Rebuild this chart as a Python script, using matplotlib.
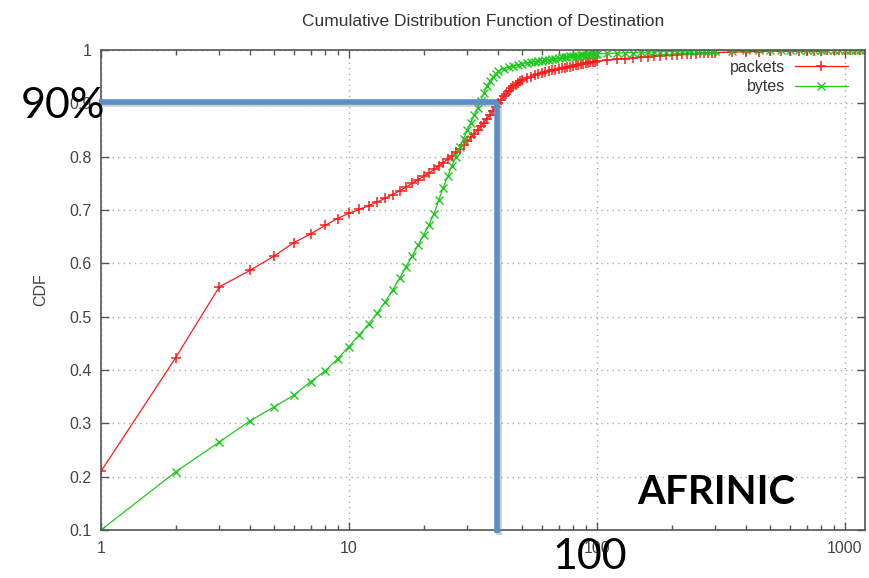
import matplotlib
matplotlib.use("Agg")
import matplotlib.pyplot as plt
import matplotlib.patheffects as pe
from matplotlib.ticker import NullFormatter, LogLocator

# ---- data ----
pk_x = ([1, 2, 3, 4, 5, 6, 7, 8, 9, 10, 11, 12, 13, 14, 15, 16, 17, 18, 19, 20,
         21, 22, 23, 24, 25, 26, 27, 28, 29, 30, 31, 32, 33, 34, 35, 36, 37, 38, 39, 40,
         41, 42, 43, 44, 45, 46, 47, 48, 49]
        + list(range(50, 101, 2)) + list(range(110, 301, 10)) + list(range(350, 1201, 50)))
pk_y = [0.210, 0.423, 0.556, 0.587, 0.614, 0.639, 0.655, 0.671, 0.684, 0.694,
        0.701, 0.708, 0.715, 0.722, 0.729, 0.736, 0.743, 0.750, 0.757, 0.763,
        0.769, 0.776, 0.782, 0.789, 0.795, 0.801, 0.808, 0.815, 0.822, 0.829,
        0.836, 0.843, 0.850, 0.857, 0.864, 0.871, 0.878, 0.886, 0.893, 0.900,
        0.906, 0.913, 0.918, 0.923, 0.928, 0.932, 0.935, 0.938, 0.941,
        # 50..100 step 2
        0.943, 0.947, 0.950, 0.953, 0.955, 0.957, 0.959, 0.960, 0.962, 0.963,
        0.965, 0.966, 0.967, 0.968, 0.969, 0.970, 0.971, 0.972, 0.973, 0.974,
        0.975, 0.976, 0.977, 0.977, 0.978, 0.979,
        # 110..300 step 10
        0.981, 0.983, 0.984, 0.985, 0.986, 0.987, 0.988, 0.989, 0.990, 0.990,
        0.991, 0.992, 0.992, 0.993, 0.993, 0.994, 0.994, 0.995, 0.995, 0.995,
        # 350..1200 step 50
        0.996, 0.997, 0.997, 0.998, 0.998, 0.998, 0.999, 0.999, 0.999, 0.999,
        0.9995, 0.9995, 0.9995, 0.9997, 0.9997, 0.9998, 0.9999, 1.0]

by_x = ([1, 2, 3, 4, 5, 6, 7, 8, 9, 10, 11, 12, 13, 14, 15, 16, 17, 18, 19, 20,
         21, 22, 23, 24, 25, 26, 27, 28, 29, 30, 31, 32, 33, 34, 35, 36, 37, 38, 39]
        + list(range(40, 101, 2)) + list(range(110, 301, 10)) + list(range(350, 1201, 50)))
by_y = [0.100, 0.209, 0.265, 0.305, 0.331, 0.353, 0.378, 0.398, 0.421, 0.444,
        0.466, 0.486, 0.507, 0.528, 0.550, 0.572, 0.594, 0.614, 0.634, 0.653,
        0.672, 0.692, 0.718, 0.742, 0.763, 0.783, 0.800, 0.818, 0.834, 0.850,
        0.864, 0.878, 0.891, 0.905, 0.920, 0.932, 0.942, 0.949, 0.955,
        # 40..100 step 2
        0.960, 0.965, 0.968, 0.970, 0.972, 0.974, 0.976, 0.977, 0.978, 0.979,
        0.980, 0.981, 0.982, 0.983, 0.984, 0.985, 0.986, 0.987, 0.987, 0.988,
        0.988, 0.989, 0.989, 0.990, 0.990, 0.991, 0.991, 0.992, 0.992, 0.992,
        0.993,
        # 110..300 step 10
        0.994, 0.994, 0.995, 0.995, 0.996, 0.996, 0.996, 0.997, 0.997, 0.997,
        0.998, 0.998, 0.998, 0.998, 0.998, 0.999, 0.999, 0.999, 0.999, 0.999,
        # 350..1200 step 50
        0.999, 0.9993, 0.9995, 0.9995, 0.9996, 0.9997, 0.9997, 0.9998, 0.9998,
        0.9998, 0.9999, 0.9999, 0.9999, 0.9999, 1.0, 1.0, 1.0, 1.0]

x_ticks = [1, 10, 100, 1000]
x_tick_labels = ["1", "10", "100", "1000"]
y_ticks = [0.1, 0.2, 0.3, 0.4, 0.5, 0.6, 0.7, 0.8, 0.9, 1.0]
y_tick_labels = ["0.1", "0.2", "0.3", "0.4", "0.5", "0.6", "0.7", "0.8", "0.9", "1"]

title = "Cumulative Distribution Function of Destination"
series_names = ["packets", "bytes"]
mark_x = 39.5
mark_y = 0.9

# ---- figure ----
plt.rcParams['font.family'] = ['Liberation Sans', 'DejaVu Sans']
fig = plt.figure(figsize=(8.69, 5.78), dpi=100)
ax = fig.add_axes([101 / 869, 1 - 530 / 578, (865 - 101) / 869, (530 - 50) / 578])

red = "#ff1a1a"
green = "#1ec81e"
ax.plot(pk_x, pk_y, color=red, lw=0.9, marker='+', ms=7, mew=1.1, label=series_names[0])
ax.plot(by_x, by_y, color=green, lw=0.9, marker='x', ms=5.5, mew=1.0, label=series_names[1])

ax.set_xscale('log')
ax.set_xlim(1, 1205)
ax.set_ylim(0.1, 1.0)
ax.set_xticks(x_ticks)
ax.set_xticklabels(x_tick_labels)
ax.xaxis.set_minor_locator(LogLocator(base=10, subs=range(2, 10)))
ax.xaxis.set_minor_formatter(NullFormatter())
ax.set_yticks(y_ticks)
ax.set_yticklabels(y_tick_labels)

tick_col = "#444444"
ax.tick_params(which='both', direction='in', top=True, right=True, colors="#555555",
               labelcolor=tick_col, labelsize=11.5)
ax.tick_params(which='major', length=6, width=1)
ax.tick_params(which='minor', length=3.5, width=1)
ax.tick_params(axis='x', pad=8)
ax.tick_params(axis='y', pad=7)
for s in ax.spines.values():
    s.set_color("#555555")
    s.set_linewidth(1.2)

ax.grid(True, which='major', linestyle=(0, (1, 3)), color="#aaaaaa", lw=1)

ax.set_title(title, fontsize=12.5, color="#333333", pad=17)
ax.set_ylabel("CDF", fontsize=11.5, color="#444444", labelpad=15)
ax.set_xlabel("IP", fontsize=11.5, color="#444444", labelpad=28)

leg = ax.legend(loc='upper right', bbox_to_anchor=(0.99, 1.0), frameon=False,
                markerfirst=False, fontsize=11.5, handlelength=3.3,
                handletextpad=0.6, labelspacing=0.3, borderaxespad=0.2)
for t in leg.get_texts():
    t.set_color("#333333")

# ---- annotation overlay ----
blue = "#5b8fc7"
shadow = [pe.SimpleLineShadow(offset=(1.5, -1.5), shadow_color='gray', alpha=0.4), pe.Normal()]
ax.plot([0.985, mark_x], [mark_y + 0.003, mark_y + 0.003], color=blue, lw=4,
        clip_on=False, solid_capstyle='butt', path_effects=shadow, zorder=5)
ax.plot([mark_x, mark_x], [mark_y + 0.003, 0.094], color=blue, lw=4,
        clip_on=False, solid_capstyle='butt', path_effects=shadow, zorder=5)

fig.text(21 / 869, 1 - 106 / 578, "90%", fontsize=31, family=['Lato', 'DejaVu Sans'],
         va='center', ha='left', color='black')
fig.text(590 / 869, 1 - 557 / 578, "100", fontsize=31, family=['Lato', 'DejaVu Sans'],
         va='center', ha='center', color='black')
fig.text(716 / 869, 1 - 492 / 578, "AFRINIC", fontsize=29, family=['Lato', 'DejaVu Sans'],
         fontweight='bold', va='center', ha='center', color='black')

fig.savefig("out.png", dpi=100, facecolor='white')
